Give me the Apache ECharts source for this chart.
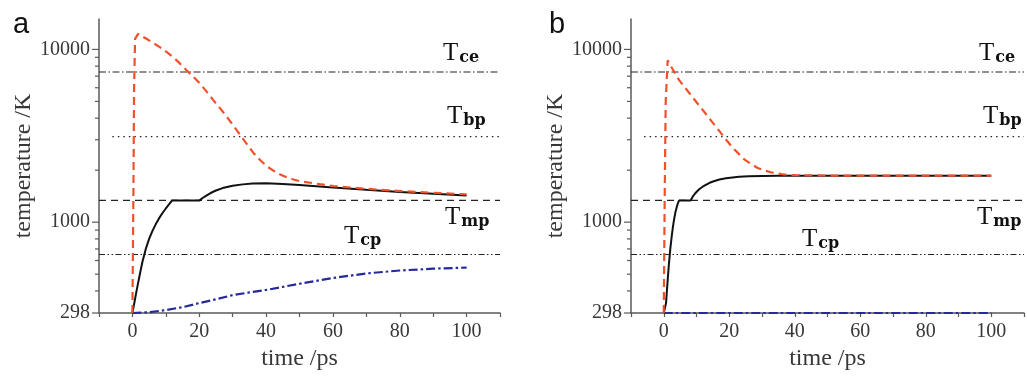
<!DOCTYPE html>
<html>
<head>
<meta charset="utf-8">
<script src="https://cdn.jsdelivr.net/npm/echarts@6/dist/echarts.min.js"></script>
<style>html,body{margin:0;padding:0;background:#fff}#c{width:1027px;height:376px}</style>
</head>
<body>
<div id="c"></div>
<script>
// ---- data (time in ps, temperature in K) ----
const refTce = 7400, refTbp = 3129, refTmp = 1337, refTcp = 650;
const xTickLabels = [0, 20, 40, 60, 80, 100];
const yTickLabels = [298, 1000, 10000];
const yMinorTicks = [400, 500, 600, 700, 800, 900, 2000, 3000, 4000, 5000, 6000, 7000, 8000, 9000];

const aElectron = [[0,298],[0.3,1500],[0.5,6000],[0.8,11500],[1.7,12300],[4.2,11520],[6.2,10910],[8.2,10310],[10.2,9680],[12.2,9030],[14.2,8300],[16.2,7570],[18.2,6950],[20.2,6350],[22.2,5700],[24.2,5090],[26.2,4570],[28.2,4085],[30.2,3620],[32.2,3205],[34.2,2840],[36.2,2517],[38.2,2290],[40.2,2108],[42.2,1986],[44.2,1888],[46.2,1820],[48.2,1767],[50,1730],[52,1705],[56,1660],[60.2,1618],[70,1560],[80.2,1513],[90,1480],[100,1449]];
const aLattice = [[0,298],[0.5,335],[1,378],[1.5,425],[2,475],[2.5,530],[3,590],[4,700],[5,800],[6,890],[7,975],[8,1055],[9,1130],[10,1200],[11,1270],[11.9,1337],[20.1,1337],[21,1380],[22,1420],[23,1460],[24,1495],[25,1525],[27,1575],[30,1625],[33,1655],[36,1672],[40,1678],[45,1665],[50,1642],[60,1590],[70,1540],[80,1497],[90,1460],[100,1426]];
const aCore = [[0,298],[5,301],[10,310],[15,322],[20,340],[25,358],[30,378],[35,392],[40,405],[50,440],[60,475],[70,505],[80,525],[90,538],[100,546]];

const bElectron = [[0,298],[0.3,1500],[0.6,5000],[1.2,8650],[2.5,7800],[4.7,6640],[6.7,5940],[8.7,5320],[10.7,4760],[12.7,4270],[14.7,3820],[16.7,3420],[18.7,3060],[20.7,2745],[22.7,2510],[24.7,2300],[26.7,2170],[28.7,2060],[30.7,1995],[32.7,1944],[34.7,1915],[36.7,1888],[40,1870],[50,1862],[60,1860],[100,1858]];
const bLattice = [[0,298],[0.4,298],[0.7,340],[1,410],[1.3,490],[1.6,580],[2,700],[2.4,820],[2.8,940],[3.2,1050],[3.6,1150],[4,1230],[4.4,1300],[4.7,1337],[8.2,1337],[8.8,1400],[9.5,1460],[10.2,1510],[11,1560],[12,1610],[13,1650],[14,1690],[15.5,1730],[17,1765],[19,1795],[21,1815],[23,1832],[26,1845],[30,1853],[35,1857],[40,1858],[100,1857]];
const bCore = [[0,298],[20,298],[40,298],[60,298],[80,298],[100,298]];

// ---- chart ----
const FONT = "'Liberation Serif', 'DejaVu Serif', serif";
const AXIS_COLOR = '#5a5a5a';
const grids = [
  {left: 99, top: 19, width: 401, height: 295},
  {left: 631, top: 19, width: 401, height: 295}
];

function xAxisCfg(i) {
  return {
    type: 'value', gridIndex: i, min: -10, max: 110, interval: 10,
    name: 'time /ps', nameLocation: 'middle', nameGap: 34,
    nameTextStyle: {fontFamily: FONT, fontSize: 24, color: '#383838'},
    axisLine: {show: true, onZero: false, lineStyle: {color: AXIS_COLOR, width: 1.5}},
    axisTick: {show: true, inside: false, length: 4, lineStyle: {color: AXIS_COLOR, width: 1.2}},
    axisLabel: {fontFamily: FONT, fontSize: 20, color: '#383838', margin: 9,
      showMinLabel: true, showMaxLabel: true,
      formatter: v => xTickLabels.indexOf(Math.round(v)) >= 0 ? String(Math.round(v)) : ''},
    splitLine: {show: false}
  };
}
function yAxisCfg(i) {
  return {
    type: 'log', gridIndex: i, min: 298, max: 15000, logBase: 10,
    name: 'temperature /K', nameLocation: 'middle', nameGap: 58,
    nameTextStyle: {fontFamily: FONT, fontSize: 24, color: '#383838'},
    axisLine: {show: true, onZero: false, lineStyle: {color: AXIS_COLOR, width: 1.5}},
    axisTick: {show: false},
    axisLabel: {fontFamily: FONT, fontSize: 20, color: '#383838', margin: 9,
      showMaxLabel: false,
      formatter: v => {
        const r = Math.round(v);
        for (const t of yTickLabels) { if (Math.abs(r - t) <= 1) return String(t); }
        return '';
      }},
    splitLine: {show: false}
  };
}

function refLine(i, v, dash, x0) {
  return {type: 'line', xAxisIndex: i, yAxisIndex: i, data: [[x0, v], [110, v]],
    symbol: 'none', silent: true, z: 1,
    lineStyle: {color: '#222', width: 1.2, type: dash}};
}
function curve(i, data, color, dash, width, z) {
  return {type: 'line', xAxisIndex: i, yAxisIndex: i, data: data, symbol: 'none',
    silent: true, z: z, smooth: false,
    lineStyle: {color: color, width: width, type: dash}};
}
function tickSeries(i) {
  const d = yTickLabels.map(v => [-10, v, 1]).concat(yMinorTicks.map(v => [-10, v, 0]));
  return {type: 'custom', xAxisIndex: i, yAxisIndex: i, data: d, silent: true, clip: false, z: 5,
    encode: {x: 0, y: 1},
    renderItem: (params, api) => {
      const p = api.coord([api.value(0), api.value(1)]);
      const len = api.value(2) ? 7 : 4;
      return {type: 'line', shape: {x1: p[0] - len, y1: p[1], x2: p[0], y2: p[1]},
        style: {stroke: AXIS_COLOR, lineWidth: 1.2}};
    }};
}

const RED = '#f0512a', BLUE = '#25299a', BLACK = '#111';
const series = [];
[[aElectron, aLattice, aCore], [bElectron, bLattice, bCore]].forEach((set, i) => {
  series.push(refLine(i, refTce, [7, 2.5, 1.5, 2.5], -10));
  series.push(refLine(i, refTbp, [1.5, 4], -6));
  series.push(refLine(i, refTmp, [7, 5], -10));
  series.push(refLine(i, refTcp, [6, 2.5, 1.5, 2.5, 1.5, 2.5], -10));
  series.push(curve(i, set[2], BLUE, [9, 3, 2.5, 3], 2.2, 3));
  series.push(curve(i, set[1], BLACK, 'solid', 2, 4));
  series.push(curve(i, set[0], RED, [8, 5], 2.2, 5));
  series.push(tickSeries(i));
});

function label(x, y, sub) {
  return {type: 'text', x: x, y: y, silent: true,
    style: {text: '{t|T}{s|' + sub + '}', verticalAlign: 'bottom',
      rich: {
        t: {fontFamily: FONT, fontSize: 25, fill: '#111', color: '#111', verticalAlign: 'bottom'},
        s: {fontFamily: "'DejaVu Serif', serif", fontWeight: 'bold', fontSize: 16, fill: '#111', color: '#111', verticalAlign: 'bottom', padding: [0, 0, 0, 1]}
      }}};
}

const graphic = [
  {type: 'text', x: 13, y: 39, style: {text: 'a', fontFamily: "'Liberation Sans', Arial, sans-serif", fontSize: 29, fill: '#111', verticalAlign: 'bottom'}},
  {type: 'text', x: 549, y: 39, style: {text: 'b', fontFamily: "'Liberation Sans', Arial, sans-serif", fontSize: 29, fill: '#111', verticalAlign: 'bottom'}},
  label(443, 66, 'ce'), label(447, 129, 'bp'), label(445, 230, 'mp'), label(344, 249, 'cp'),
  label(979, 66, 'ce'), label(983, 129, 'bp'), label(977, 230, 'mp'), label(802, 252, 'cp')
];

const chart = echarts.init(document.getElementById('c'), null, {renderer: 'canvas'});
chart.setOption({
  animation: false,
  backgroundColor: '#fff',
  grid: grids,
  xAxis: [xAxisCfg(0), xAxisCfg(1)],
  yAxis: [yAxisCfg(0), yAxisCfg(1)],
  series: series,
  graphic: graphic
});
</script>
</body>
</html>
